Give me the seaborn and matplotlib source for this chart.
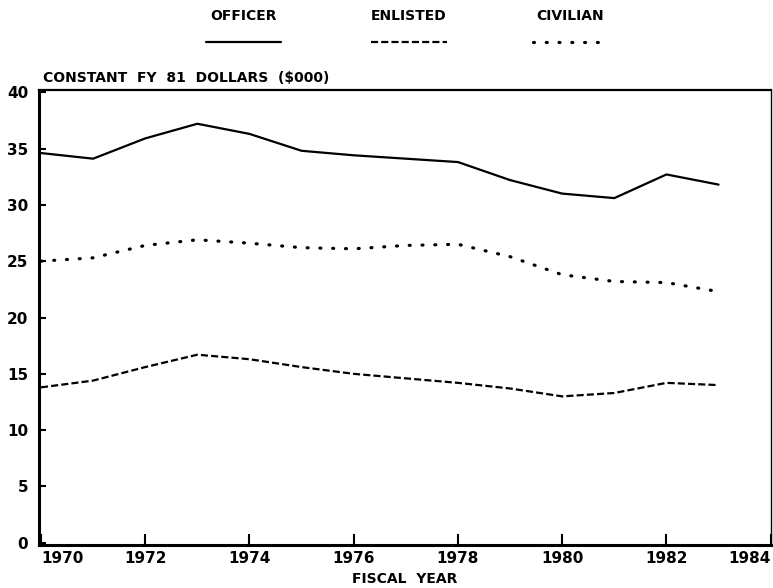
import pandas as pd
import seaborn as sns
import matplotlib.pyplot as plt
from matplotlib.lines import Line2D

# values (constant FY 81 dollars, $000)
years = [1970, 1971, 1972, 1973, 1974, 1975, 1976, 1977, 1978, 1979, 1980, 1981, 1982, 1983]
officer = [34.6, 34.1, 35.9, 37.2, 36.3, 34.8, 34.4, 34.1, 33.8, 32.2, 31.0, 30.6, 32.7, 31.8]
enlisted = [13.8, 14.4, 15.6, 16.7, 16.3, 15.6, 15.0, 14.6, 14.2, 13.7, 13.0, 13.3, 14.2, 14.0]
civilian = [25.0, 25.3, 26.4, 26.9, 26.6, 26.2, 26.1, 26.4, 26.5, 25.4, 23.8, 23.2, 23.1, 22.3]

series_names = ['OFFICER', 'ENLISTED', 'CIVILIAN']
y_ticks = [0, 5, 10, 15, 20, 25, 30, 35, 40]
x_ticks = [1970, 1972, 1974, 1976, 1978, 1980, 1982, 1984]

sns.set_style("ticks")
plt.rcParams['font.family'] = ['DejaVu Sans']
plt.rcParams['font.weight'] = 'bold'
plt.rcParams['text.color'] = 'black'
plt.rcParams['xtick.color'] = 'black'
plt.rcParams['ytick.color'] = 'black'
plt.rcParams['axes.edgecolor'] = 'black'

df = pd.DataFrame({'year': years, 'OFFICER': officer,
                   'ENLISTED': enlisted, 'CIVILIAN': civilian})

styles = {
    'OFFICER': dict(linestyle='-', linewidth=1.6),
    'ENLISTED': dict(linestyle=(0, (3.2, 1.4)), linewidth=1.6),
    'CIVILIAN': dict(linestyle=(0, (0.3, 3.7)), linewidth=2.3,
                     dash_capstyle='round'),
}

fig = plt.figure(figsize=(7.73, 5.88), dpi=100)
ax = fig.add_axes([0.051, 0.073, 0.946, 0.774])

for name in series_names:
    sns.lineplot(data=df, x='year', y=name, ax=ax, color='black',
                 **styles[name])

ax.set_xlim(1969.97, 1984)
ax.set_ylim(-0.2, 40.2)
ax.set_yticks(y_ticks)
ax.set_xticks(x_ticks)
ax.set_yticklabels([str(v) for v in y_ticks], fontsize=11, fontweight='bold')
ax.set_xticklabels([str(v) for v in x_ticks], fontsize=11, fontweight='bold')
ax.get_xticklabels()[0].set_horizontalalignment('left')
ax.get_xticklabels()[-1].set_horizontalalignment('right')
ax.tick_params(axis='y', direction='in', length=5, width=1.5, pad=8)
ax.tick_params(axis='x', direction='in', length=8, width=1.5, pad=4)
ax.set_xlabel('')
ax.set_ylabel('')

for side in ['left', 'bottom']:
    ax.spines[side].set_linewidth(2.2)
ax.spines['top'].set_visible(True)
ax.spines['right'].set_visible(True)
ax.spines['top'].set_linewidth(1.6)
ax.spines['right'].set_linewidth(1.0)

fig.text(0.056, 0.855, 'CONSTANT  FY  81  DOLLARS  ($000)', fontsize=10,
         fontweight='bold', ha='left', va='bottom')
fig.text(0.524, 0.003, 'FISCAL  YEAR', fontsize=10, fontweight='bold',
         ha='center', va='bottom')

# legend: label above a short sample of each line style
legend_x = [0.315, 0.529, 0.738]
for name, cx in zip(series_names, legend_x):
    fig.text(cx, 0.973, name, fontsize=10, fontweight='bold',
             ha='center', va='center')
    fig.add_artist(Line2D([cx - 0.049, cx + 0.049], [0.929, 0.929],
                          transform=fig.transFigure, color='black',
                          **styles[name]))

fig.savefig('out.png', dpi=100)
